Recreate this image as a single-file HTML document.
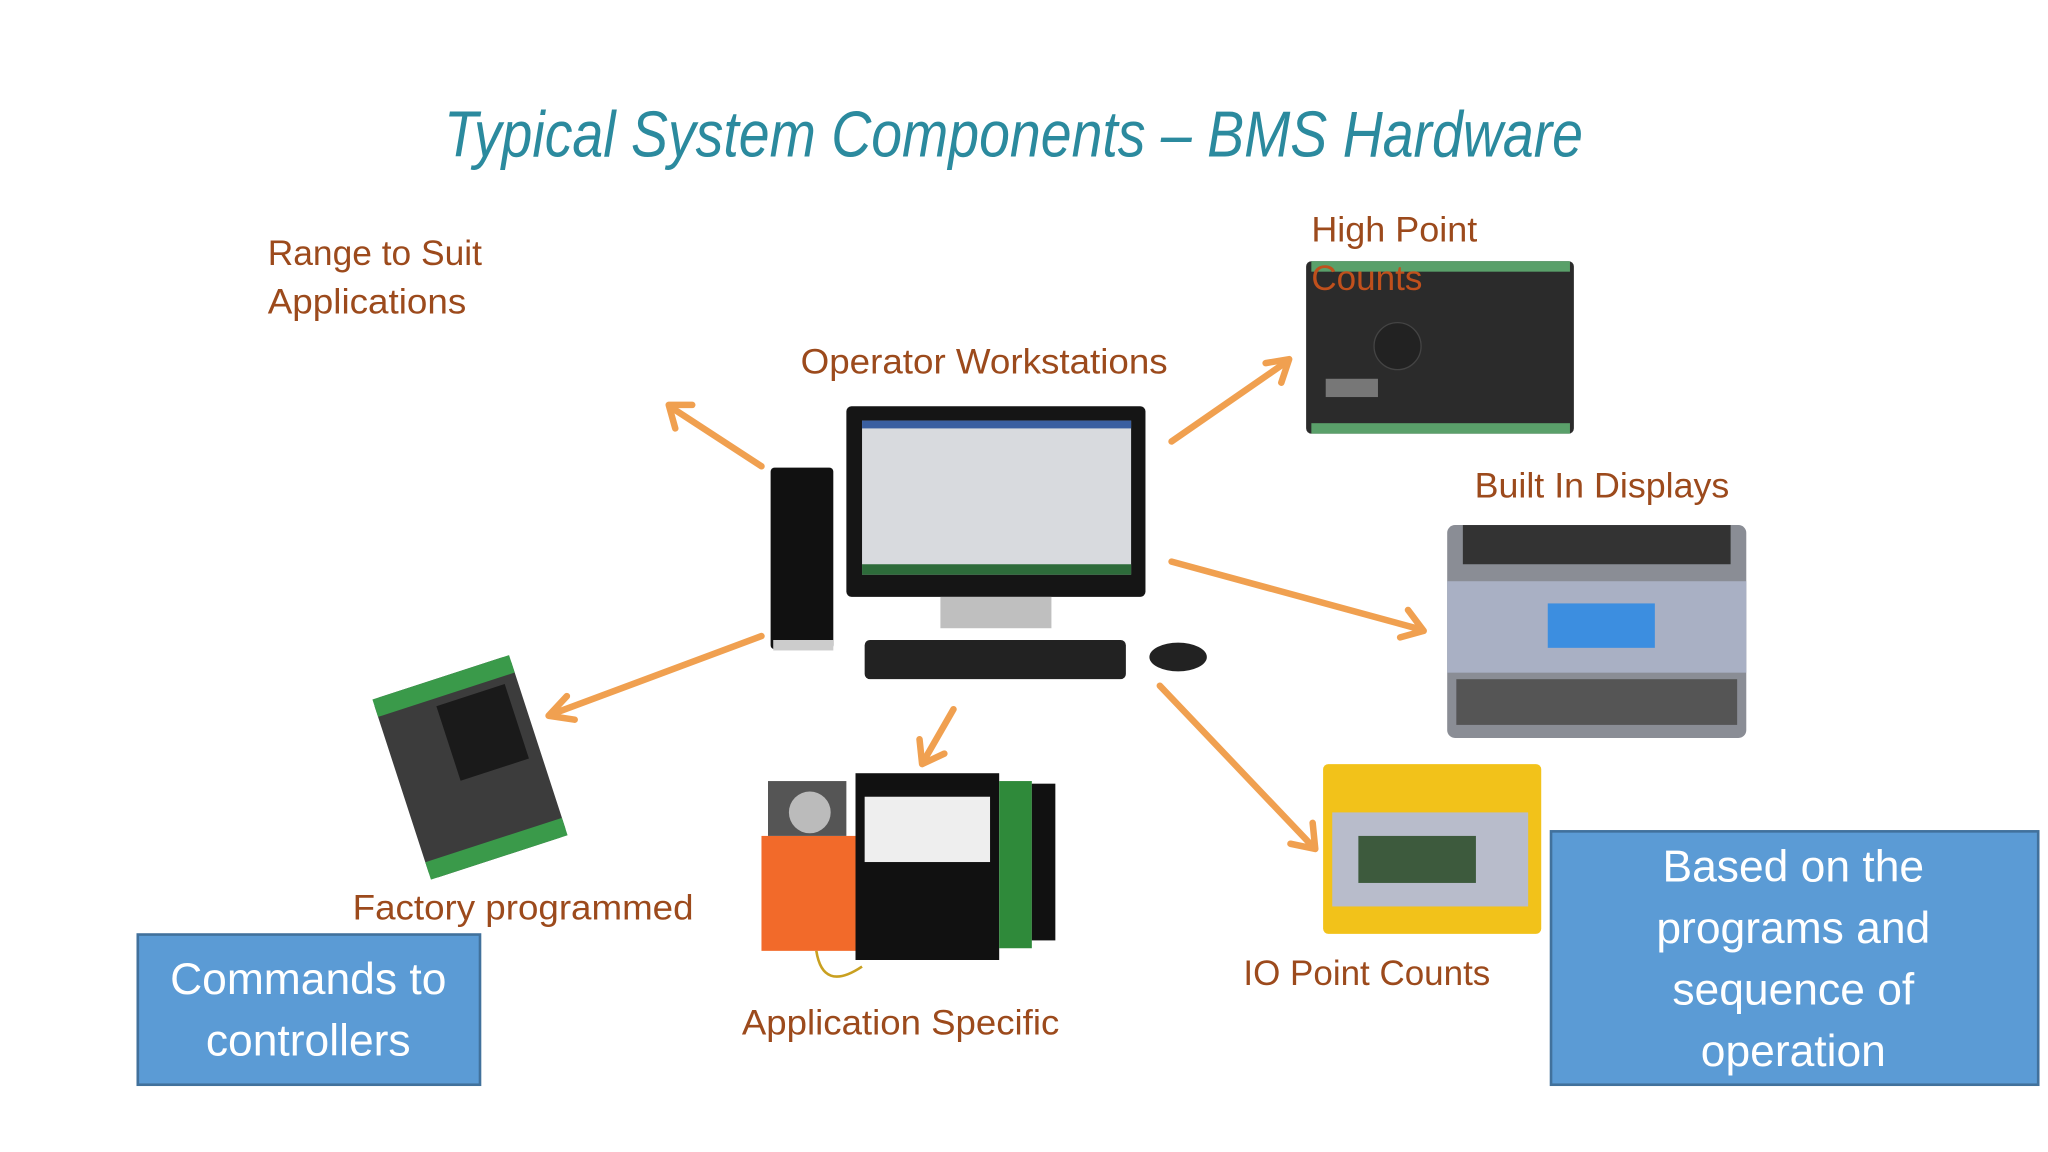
<!DOCTYPE html>
<html><head><meta charset="utf-8"><style>
html,body{margin:0;padding:0;background:#fff;}
svg{display:block;}
text{font-family:"Liberation Sans Narrow","Liberation Sans",sans-serif;}
</style></head><body>
<svg width="2048" height="1152" viewBox="0 0 1568 882" xmlns="http://www.w3.org/2000/svg">
<rect width="1568" height="882" fill="#fff"/>
<text x="340" y="120" font-size="50" font-style="italic" fill="#2b8a9e" textLength="872" lengthAdjust="spacingAndGlyphs">Typical System Components – BMS Hardware</text>

<g fill="#9c4a1c" font-size="27">
<text x="205" y="203" textLength="164" lengthAdjust="spacingAndGlyphs">Range to Suit</text>
<text x="205" y="240" textLength="152" lengthAdjust="spacingAndGlyphs">Applications</text>
<text x="1004" y="185" textLength="127" lengthAdjust="spacingAndGlyphs">High Point</text>
<text x="613" y="286" textLength="281" lengthAdjust="spacingAndGlyphs">Operator Workstations</text>
<text x="1129" y="381" textLength="195" lengthAdjust="spacingAndGlyphs">Built In Displays</text>
<text x="270" y="704" textLength="261" lengthAdjust="spacingAndGlyphs">Factory programmed</text>
<text x="568" y="792" textLength="243" lengthAdjust="spacingAndGlyphs">Application Specific</text>
<text x="952" y="754" textLength="189" lengthAdjust="spacingAndGlyphs">IO Point Counts</text>
</g>

<!-- High point controller -->
<rect x="1000" y="200" width="205" height="132" rx="4" fill="#2b2b2b"/>
<rect x="1004" y="200" width="198" height="8" fill="#5aa06a"/>
<rect x="1004" y="324" width="198" height="8" fill="#5aa06a"/>
<rect x="1015" y="290" width="40" height="14" fill="#777"/>
<circle cx="1070" cy="265" r="18" fill="#222" stroke="#444"/>
<text x="1004" y="222" font-size="27" fill="#c0501c" textLength="85" lengthAdjust="spacingAndGlyphs">Counts</text>

<!-- Computer -->
<rect x="590" y="358" width="48" height="139" rx="3" fill="#111"/>
<rect x="592" y="490" width="46" height="8" fill="#ccc"/>
<rect x="648" y="311" width="229" height="146" rx="4" fill="#151515"/>
<rect x="660" y="322" width="206" height="118" fill="#d8dade"/>
<rect x="660" y="322" width="206" height="6" fill="#3a5fa0"/>
<rect x="660" y="432" width="206" height="8" fill="#2d6b3a"/>
<rect x="720" y="457" width="85" height="24" fill="#bfbfbf"/>
<rect x="662" y="490" width="200" height="30" rx="4" fill="#222"/>
<ellipse cx="902" cy="503" rx="22" ry="11" fill="#222"/>

<!-- Built in displays -->
<rect x="1108" y="402" width="229" height="163" rx="6" fill="#8a8d95"/>
<rect x="1120" y="402" width="205" height="30" fill="#333"/>
<rect x="1108" y="445" width="229" height="70" fill="#a9b0c4"/>
<rect x="1185" y="462" width="82" height="34" fill="#3c8ee0"/>
<rect x="1115" y="520" width="215" height="35" fill="#555"/>

<!-- Factory programmed -->
<g transform="rotate(-18 360 588)">
<rect x="305" y="515" width="110" height="145" rx="6" fill="#3c3c3c"/>
<rect x="305" y="515" width="110" height="14" fill="#3a9a4a"/>
<rect x="305" y="646" width="110" height="14" fill="#3a9a4a"/>
<rect x="350" y="535" width="55" height="60" fill="#1a1a1a"/>
</g>

<!-- Application specific -->
<rect x="655" y="592" width="110" height="143" fill="#111"/>
<rect x="662" y="610" width="96" height="50" fill="#eee"/>
<rect x="583" y="640" width="72" height="88" fill="#f26a2a"/>
<rect x="588" y="598" width="60" height="42" fill="#555"/>
<circle cx="620" cy="622" r="16" fill="#bbb"/>
<rect x="765" y="598" width="25" height="128" fill="#2f8a3a"/>
<rect x="790" y="600" width="18" height="120" fill="#111"/>
<path d="M625 728 Q630 760 660 740" stroke="#c9a020" stroke-width="2" fill="none"/>

<!-- IO point counts -->
<rect x="1013" y="585" width="167" height="130" rx="4" fill="#f2c21a"/>
<rect x="1020" y="622" width="150" height="72" fill="#b8bccb"/>
<rect x="1040" y="640" width="90" height="36" fill="#3d5a3d"/>

<!-- Arrows -->
<g stroke="#f0a050" stroke-width="5" fill="none" stroke-linecap="round" stroke-linejoin="round">
<line x1="583" y1="357" x2="514" y2="312"/><polyline points="517,328 512,310 530,310"/>
<line x1="897" y1="338" x2="985" y2="277"/><polyline points="969,278 987,275 981,293"/>
<line x1="897" y1="430" x2="1088" y2="482"/><polyline points="1078,467 1090,483 1072,488"/>
<line x1="583" y1="487" x2="422" y2="547"/><polyline points="434,533 420,548 440,551"/>
<line x1="730" y1="543" x2="707" y2="583"/><polyline points="704,566 706,585 723,577"/>
<line x1="888" y1="525" x2="1005" y2="648"/><polyline points="1005,630 1007,650 988,646"/>
</g>

<!-- Blue boxes -->
<rect x="105.5" y="715.5" width="262" height="115" fill="#5b9bd5" stroke="#41719c" stroke-width="2"/>
<g fill="#fff" font-size="34" text-anchor="middle" style="font-family:'Liberation Sans',sans-serif">
<text x="236" y="761">Commands to</text>
<text x="236" y="808">controllers</text>
</g>
<rect x="1187.5" y="636.5" width="373" height="194" fill="#5b9bd5" stroke="#41719c" stroke-width="2"/>
<g fill="#fff" font-size="34" text-anchor="middle" style="font-family:'Liberation Sans',sans-serif">
<text x="1373" y="675">Based on the</text>
<text x="1373" y="722">programs and</text>
<text x="1373" y="769">sequence of</text>
<text x="1373" y="816">operation</text>
</g>
</svg>
</body></html>
